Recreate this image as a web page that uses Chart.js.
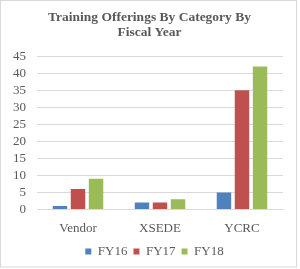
<!DOCTYPE html>
<html><head><meta charset="utf-8">
<script src="https://cdn.jsdelivr.net/npm/chart.js@4/dist/chart.umd.min.js"></script>
<style>html,body{margin:0;padding:0;background:#fff;}canvas{display:block;}</style>
</head><body>
<canvas id="c" width="300" height="269"></canvas>
<script>
const categories = ["Vendor", "XSEDE", "YCRC"];
const seriesNames = ["FY16", "FY17", "FY18"];
const fy16 = [1, 2, 5];
const fy17 = [6, 2, 35];
const fy18 = [9, 3, 42];
const colors = ["#4F81BD", "#C0504D", "#9BBB59"];
const titleLines = ["Training Offerings By Category By", "Fiscal Year"];

const frame = {
  id: "frame",
  beforeDraw(chart) {
    const ctx = chart.ctx;
    ctx.save();
    ctx.fillStyle = "#fff";
    ctx.fillRect(0, 0, 300, 269);
    ctx.strokeStyle = "#d9d9d9";
    ctx.lineWidth = 1;
    ctx.strokeRect(0.5, 0.5, 296, 266.5);
    ctx.restore();
  },
  afterLayout(chart) {
    if (chart.titleBlock) { chart.titleBlock.left += 7; chart.titleBlock.right += 7; }
    if (chart.legend) { chart.legend.left += 12; chart.legend.right += 12; }
  }
};

new Chart(document.getElementById("c"), {
  type: "bar",
  data: {
    labels: categories,
    datasets: [fy16, fy17, fy18].map((d, i) => ({
      label: seriesNames[i],
      data: d,
      backgroundColor: colors[i],
      borderWidth: 0,
      categoryPercentage: 0.66,
      barPercentage: 0.8
    }))
  },
  options: {
    responsive: false,
    animation: false,
    layout: { padding: { left: 2, right: 17, top: 10, bottom: 1 } },
    plugins: {
      title: {
        display: true,
        text: titleLines,
        color: "#595959",
        font: { family: "'Liberation Serif', serif", size: 13.5, weight: "bold", lineHeight: 1.12 },
        padding: { top: 0, bottom: 16 }
      },
      legend: {
        position: "bottom",
        labels: {
          color: "#595959",
          font: { family: "'Liberation Serif', serif", size: 13 },
          boxWidth: 6,
          boxHeight: 6,
          padding: 6
        }
      },
      tooltip: { enabled: false }
    },
    scales: {
      x: {
        grid: { display: false },
        border: { color: "#d9d9d9" },
        ticks: { color: "#595959", font: { family: "'Liberation Serif', serif", size: 13 }, padding: 3 }
      },
      y: {
        min: 0, max: 45,
        ticks: { stepSize: 5, autoSkip: false, color: "#595959", font: { family: "'Liberation Serif', serif", size: 13 }, padding: 11 },
        grid: { color: "#d9d9d9", drawTicks: false },
        border: { display: false }
      }
    }
  },
  plugins: [frame]
});
</script>
</body></html>
